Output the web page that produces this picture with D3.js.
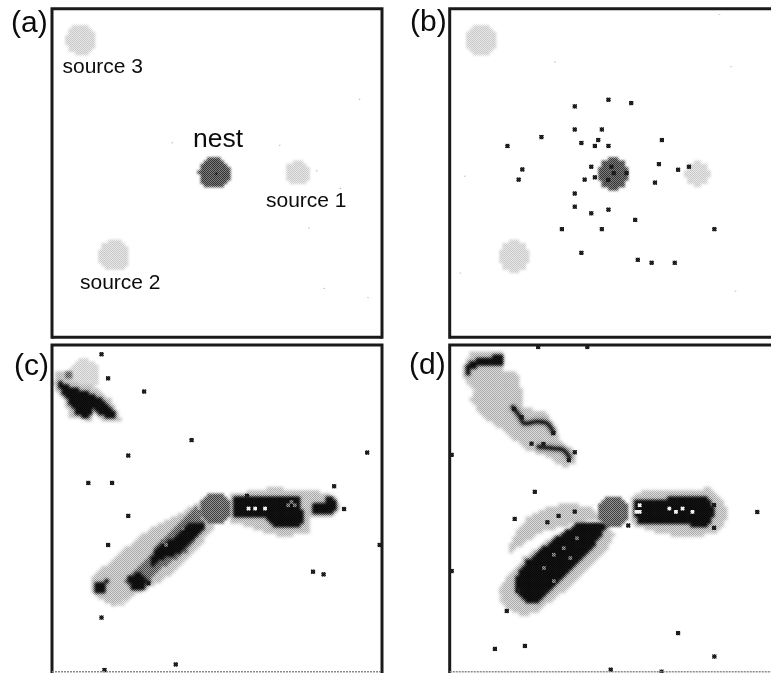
<!DOCTYPE html>
<html>
<head>
<meta charset="utf-8">
<script src="https://cdnjs.cloudflare.com/ajax/libs/d3/7.8.5/d3.min.js"></script>
<style>
  html, body { margin: 0; padding: 0; background: #fff; overflow: hidden; }
  text { font-family: "Liberation Sans", Arial, sans-serif; fill: #0c0c0c; }
</style>
</head>
<body>
<div id="chart"></div>
<script>
/****** DATA, all positions in lattice cells (0-100) ******/
var nestSource = [[49.5, 50], [75, 50], [19.5, 75], [9.5, 9.5]];
var siteRadius = [4.7, 3.7, 4.7, 4.6];

var aAnts = [[49.8, 50]];
var aSpecks = [[36.2,40.5],[68.8,41.2],[80,49],[87.2,54.3],[77.6,66.3],[93,27.3],[82.2,84.6],[95.6,87.4]];

var bAnts = [[37.9,29.6],[48.1,27.6],[55,28.6],[37.9,36.6],[46.1,36.6],[27.8,38.9],[64.3,39.8],[45,39.8],
  [39.9,40.7],[44,41.6],[48.1,41.6],[17.5,41.6],[22,48.7],[20.9,51.8],[42.9,47.9],[49,47.9],[63.4,47.1],
  [69.2,48.8],[72.5,47.9],[49.7,49.8],[53.6,49.8],[44,51.1],[40.9,51.8],[48,51.9],[62.2,52.7],[37.9,56],
  [37.9,60],[42.9,62],[48.1,60.9],[56.2,64],[34,66.8],[46.1,66.8],[80.2,66.8],[39.9,74],[57,76.1],[61.2,77],[68.2,77]];
var bSpecks = [[81.5,1.6],[31.7,16],[85.1,17.4],[4.4,50.6],[86.4,85.4],[3,80]];

var cAnts = [[15,2.8],[17,10.1],[27.9,14.1],[42.3,28.8],[23.1,33.5],[95.5,32.6],[11,41.8],[18.2,41.8],[23.1,51.8],
  [85.5,42.8],[88.5,49.7],[17,60.6],[99.3,60.6],[79.1,68.7],[82.3,69.5],[15,82.6],[37.5,96.8],[15.9,98.5],[59.1,45.7],[29.2,72.2]];
var cLight = [
  [[45.9,47],[38.8,51],[30.7,55],[21.6,62.1],[14.6,68.2],[11.5,70.7],[11.6,73.5],[13.5,76.3],[18.6,78.8],[23.6,76.3],
   [31.7,72.2],[38.8,67.2],[46.9,58],[48.9,55]],
  [[54,45.5],[61,44],[68,43.2],[75,44.4],[81,44.4],[86.2,46.5],[86.7,49.5],[84.2,52],[78.2,52.5],[77.7,56.6],[70,58.1],[64,56.6],[57,54],[54,53.5]],
  [[0.7,8.1],[4.4,7.6],[6.9,11.1],[12.5,12.6],[18,16.6],[20.6,22.6],[15.6,23.4],[12.5,19.7],[12,23],[5.5,21.7],[3.4,16.2],[0.4,12.1]]
];
var cMid = [
  [[43.8,49],[45.9,54],[40.8,62.6],[32.7,67.7],[28.7,72.7],[24.6,74.2],[22.1,71.2],[29.7,63.6],[34.7,57.6],[40.8,51.5]],
  [[4,8],[6.5,8],[6.5,10],[4,10]]
];
var cDark = [
  [[23.1,70.2],[26.2,68.7],[29.2,71.2],[27.7,73.7],[24.7,74.2],[23.7,72.2]],
  [[29.7,65.1],[32.7,60.6],[37.8,58.1],[41.8,54],[46.9,53.5],[45.9,55.5],[41.8,60.1],[37.8,63.1],[32.7,65.1],[30.2,67.7]],
  [[13.5,72.2],[16.6,71.2],[15.6,75.2],[13.5,74.7]],
  [[55.4,46.5],[62,45.5],[75.5,46],[75.5,50],[76,54],[74.1,55.5],[68,55],[65,52.5],[55.4,52]],
  [[78.6,48],[82.7,47.5],[83.2,46],[86.2,47],[85.7,50],[82.2,51.5],[79.1,51]],
  [[2.4,11.1],[5.5,13.1],[10.5,14.1],[14.5,16.2],[19.1,20.7],[18.1,22.7],[14.5,20.7],[12,18.7],[11,22.7],[7,20.2],[5,16.7],[2.4,13.1]]
];
var cLines = [];
var cGrey = [[33.7,59.5],[34.7,60.5],[39.5,55.5],[43.5,52],[44,50],[36.5,57.5],[72.5,47.5],[73.5,48.5],[71.5,48.5]];
var cWhite = [[59.5,49.7],[61.5,49.7],[64.8,49.7]];

var dAnts = [[26.8,0.6],[41.7,0.6],[0.6,33.3],[0.6,68.5],[25.8,44.5],[19.7,52.7],[93.2,50.6],[29.6,53.7],[33,51.8],[37.9,50.5],
  [17.3,80.6],[13.7,92.1],[22.8,91.2],[69.2,87.3],[80.2,94.4],[48.8,98.4],[64.2,99],[54.1,54.7],[20.8,74.4],[19.5,19.4],
  [21.8,21.9],[24.8,29.9],[28.4,30],[37.9,32.5],[36.1,34.9],[31.4,26.7],[80.1,48.5],[80.1,55.4]];
var dLight = [
  [[4.6,5],[6.2,2.5],[15.8,2.5],[16.3,7.6],[20.3,8.6],[21.8,14.1],[22.3,18.7],[29.4,20.7],[32.4,26.3],[32.9,28.3],[38,32.8],[37.5,35.9],
   [35,36.9],[28.4,33.3],[22.8,31.3],[15.3,25.3],[9.2,21.2],[6.2,16.2],[7.7,13.6],[4.2,9.6]],
  [[17.3,63.6],[18.8,58.6],[23.3,52.5],[29.4,49],[37.5,48],[43.5,49.5],[46,52.5],[38.5,54],[33.4,55],[27.4,56.6],[20.3,61.6]],
  [[15.3,74.7],[17.3,70.7],[22.3,64.6],[28.4,60.1],[35.5,56],[46.6,54],[49.6,57.6],[47.6,61.6],[39.5,69.7],[34.5,74.7],[26.4,80.8],[22.3,82.3],[17.3,79.8]],
  [[54.6,46.5],[57.7,44.4],[70.8,43.9],[78.9,43.4],[83.4,47.5],[83.9,52.5],[80.9,57.1],[71.8,58.1],[63.7,57.1],[55.7,54.5],[54.6,53.5]]
];
var dMid = [];
var dDark = [
  [[4.6,8.1],[5.6,5.6],[8.2,4.5],[12.7,4],[13.2,2.8],[15.8,3],[16.3,5.6],[13.2,6.3],[8.2,6.3],[6.2,7.1],[5.7,8.6]],
  [[20.5,70],[23.5,65.5],[27.8,62],[31.8,59],[39,53.8],[45.5,53.6],[47.8,54.5],[43,61.5],[35,69],[28,77],[24,78.5],[20.5,75]],
  [[56.2,47.5],[65.8,46.5],[77.9,46.5],[80.4,50.5],[77.9,54.9],[72.8,54.5],[57.7,54],[56.2,51.9]]
];
var dLines = [
  [[18.8,18.4],[21.3,21.7],[22.5,23.7],[26.4,23.2],[29.4,23.7],[31.6,26.8]],
  [[26.4,30.8],[31.4,31.3],[34.4,31.8],[36.5,34.5]]
];
var dGrey = [[28.5,67],[31.5,63.5],[34.5,61.5],[36,64],[31,71],[38,58.5]];
var dWhite = [[56.5,50.6],[57.5,50.6],[68,50.6],[73.6,50.6],[70.3,49.4],[66.2,49.4],[57.4,48.2]];

var panelLabels = ["(a)", "(b)", "(c)", "(d)"];
var siteNames = ["source 1", "source 2", "source 3"];

/****** LAYOUT ******/
var width = 771, height = 673;
var cell = 3.3;
var frames = [
  {left: 52, top: 8.7, bottom: 337.3, shift: [-0.7, -0.2], nest: "#565656"},
  {left: 449.7, top: 8.7, bottom: 337.3, shift: [0, 0], nest: "#565656"},
  {left: 52, top: 345, bottom: 671.8, shift: [0.3, -0.6], nest: "#666666"},
  {left: 449.7, top: 345, bottom: 671.8, shift: [0, 0.5], nest: "#666666"}
];
var panelData = [
  {ants: aAnts, specks: aSpecks, light: [], mid: [], dark: [], lines: [], grey: [], white: []},
  {ants: bAnts, specks: bSpecks, light: [], mid: [], dark: [], lines: [], grey: [], white: []},
  {ants: cAnts, specks: [], light: cLight, mid: cMid, dark: cDark, lines: cLines, grey: cGrey, white: cWhite},
  {ants: dAnts, specks: [], light: dLight, mid: dMid, dark: dDark, lines: dLines, grey: dGrey, white: dWhite}
];

var svg = d3.select("#chart").append("svg")
  .attr("width", width)
  .attr("height", height)
  .style("display", "block");

svg.append("rect").attr("width", width).attr("height", height).attr("fill", "#fff");

var defs = svg.append("defs");

// blur levels for the soft edge of the low-res lattice
[["soft", 1.6], ["halo", 2.2], ["medium", 1.0], ["sharp", 0.8], ["ant", 0.65]].forEach(function(f) {
  defs.append("filter")
    .attr("id", f[0])
    .attr("filterUnits", "userSpaceOnUse")
    .attr("x", 0).attr("y", 0).attr("width", width).attr("height", height)
    .append("feGaussianBlur")
    .attr("stdDeviation", f[1]);
});

// 1px checker, gives the printed halftone look on the greys
var checker = defs.append("pattern")
  .attr("id", "checker")
  .attr("width", 2).attr("height", 2)
  .attr("patternUnits", "userSpaceOnUse");
checker.append("rect").attr("width", 2).attr("height", 2).attr("fill", "#fff");
checker.append("rect").attr("width", 1).attr("height", 1).attr("fill", "#000");
checker.append("rect").attr("x", 1).attr("y", 1).attr("width", 1).attr("height", 1).attr("fill", "#000");

var allCells = d3.cross(d3.range(100), d3.range(100));

function drawCells(g, cells, x, y, fill) {
  g.selectAll(null)
    .data(cells)
    .enter()
    .append("rect")
    .attr("x", function(d) { return x(d[0]); })
    .attr("y", function(d) { return y(d[1]); })
    .attr("width", x(1) - x(0) + 0.4)
    .attr("height", y(1) - y(0) + 0.4)
    .attr("fill", fill);
}

function polyCells(polys) {
  return allCells.filter(function(c) {
    return polys.some(function(p) { return d3.polygonContains(p, [c[0] + 0.5, c[1] + 0.5]); });
  });
}

function discCells(center, r) {
  return allCells.filter(function(c) {
    return Math.hypot(c[0] + 0.5 - center[0], c[1] + 0.5 - center[1]) < r;
  });
}

function floorCells(list) {
  return list.map(function(w) { return [Math.floor(w[0]), Math.floor(w[1])]; });
}

/****** DRAW THE FOUR PANELS ******/
frames.forEach(function(fr, i) {
  var data = panelData[i];
  var x = d3.scaleLinear().domain([0, 100]).range([fr.left, fr.left + 100 * cell]);
  var y = d3.scaleLinear().domain([0, 100]).range([fr.top, fr.top + 100 * cell]);
  var g = svg.append("g");

  // food sources under the trails
  var sources = g.append("g").attr("filter", "url(#medium)");
  nestSource.slice(1).forEach(function(s, k) {
    var c = [s[0] + fr.shift[0], s[1] + fr.shift[1]];
    drawCells(sources, discCells(c, siteRadius[k + 1]), x, y, "#d8d8d8");
  });

  var line = d3.line()
    .x(function(d) { return x(d[0]); })
    .y(function(d) { return y(d[1]); })
    .curve(d3.curveCatmullRom);

  // pheromone trails, light cloud, then a dark halo under the strong part
  drawCells(g.append("g").attr("filter", "url(#soft)"), polyCells(data.light), x, y, "#c2c2c2");
  drawCells(g.append("g").attr("filter", "url(#medium)"), polyCells(data.mid), x, y, "#6e6e6e");

  var haloG = g.append("g").attr("filter", "url(#halo)");
  drawCells(haloG, polyCells(data.dark), x, y, "#4a4a4a");
  haloG.selectAll("path")
    .data(data.lines)
    .enter()
    .append("path")
    .attr("d", line)
    .attr("fill", "none")
    .attr("stroke", "#777")
    .attr("stroke-width", cell * 2);

  var darkG = g.append("g").attr("filter", "url(#sharp)");
  drawCells(darkG, polyCells(data.dark), x, y, "#0e0e0e");
  darkG.selectAll("path")
    .data(data.lines)
    .enter()
    .append("path")
    .attr("d", line)
    .attr("fill", "none")
    .attr("stroke", "#161616")
    .attr("stroke-width", cell);

  var spots = g.append("g").attr("filter", "url(#ant)");
  drawCells(spots, floorCells(data.grey), x, y, "#6f6f6f");
  drawCells(spots, floorCells(data.white), x, y, "#f2f2f2");

  // nest
  var nestCenter = [nestSource[0][0] + fr.shift[0] * 0.5, nestSource[0][1] + fr.shift[1]];
  drawCells(g.append("g").attr("filter", "url(#sharp)"), discCells(nestCenter, siteRadius[0]), x, y, fr.nest);

  // ants
  var antSize = i == 0 ? 2 : 4.2;
  g.append("g").attr("filter", "url(#ant)")
    .selectAll("rect")
    .data(data.ants)
    .enter()
    .append("rect")
    .attr("x", function(d) { return x(d[0]) - antSize / 2; })
    .attr("y", function(d) { return y(d[1]) - antSize / 2; })
    .attr("width", antSize)
    .attr("height", antSize)
    .attr("fill", "#1c1c1c");

  // small print specks
  g.append("g")
    .selectAll("rect")
    .data(data.specks)
    .enter()
    .append("rect")
    .attr("x", function(d) { return x(d[0]); })
    .attr("y", function(d) { return y(d[1]); })
    .attr("width", 1.5)
    .attr("height", 1)
    .attr("fill", "#bbb");

  // halftone over the panel, only the mid greys react to overlay blending
  g.append("rect")
    .attr("x", fr.left).attr("y", fr.top)
    .attr("width", Math.min(100 * cell, width - fr.left))
    .attr("height", fr.bottom - fr.top)
    .attr("fill", "url(#checker)")
    .style("mix-blend-mode", "overlay")
    .style("opacity", 0.4);

  // frame, the two lower panels run out at a thin grey edge
  var right = fr.left + 100 * cell;
  var outline = [[fr.left, fr.bottom], [fr.left, fr.top], [right, fr.top], [right, fr.bottom]];
  g.append("path")
    .attr("d", d3.line()(outline))
    .attr("fill", "none")
    .attr("stroke", "#1a1a1a")
    .attr("stroke-width", 3)
    .attr("stroke-linecap", "square");
  g.append("line")
    .attr("x1", fr.left).attr("x2", right)
    .attr("y1", fr.bottom).attr("y2", fr.bottom)
    .attr("stroke", i < 2 ? "#1a1a1a" : "#8a8a8a")
    .attr("stroke-width", i < 2 ? 3 : 1.6)
    .attr("stroke-dasharray", i < 2 ? null : "2,1");

  // panel letter
  svg.append("text")
    .attr("x", [11, 410, 14, 409][i])
    .attr("y", [32, 31, 375, 374][i])
    .style("font-size", "30px")
    .text(panelLabels[i]);
});

/****** LABELS OF PANEL (a) ******/
var labelX = [266, 80, 62.5];
var labelY = [207.3, 288.7, 72.7];
siteNames.forEach(function(name, i) {
  svg.append("text")
    .attr("x", labelX[i])
    .attr("y", labelY[i])
    .style("font-size", "21px")
    .text(name);
});

svg.append("text")
  .attr("x", 193)
  .attr("y", 147.3)
  .style("font-size", "26.5px")
  .text("nest");
</script>
</body>
</html>
